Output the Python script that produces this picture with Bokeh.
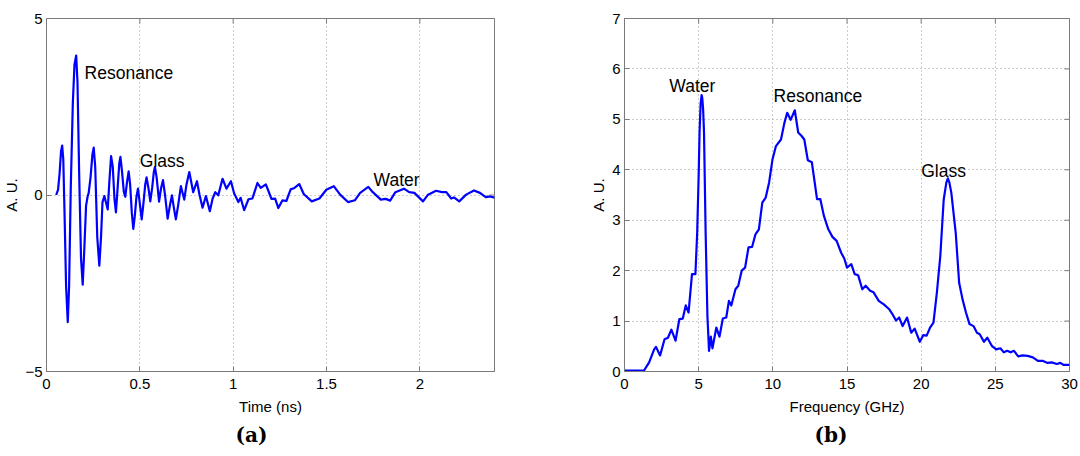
from bokeh.plotting import figure
from bokeh.layouts import row
from bokeh.models import ColumnDataSource, FixedTicker, Label, Title
from bokeh.embed import file_html
from bokeh.resources import INLINE

# ---------------- data ----------------
time_ns = [0.052, 0.062, 0.070, 0.078, 0.084, 0.090, 0.097, 0.105, 0.114, 0.121,
           0.130, 0.141, 0.150, 0.159, 0.166, 0.175, 0.185, 0.194, 0.202, 0.212,
           0.220, 0.226, 0.236, 0.246, 0.253, 0.261, 0.272, 0.283, 0.292, 0.300,
           0.310, 0.318, 0.328, 0.337, 0.346, 0.355, 0.364, 0.372, 0.381, 0.390,
           0.396, 0.404, 0.414, 0.422, 0.431, 0.440, 0.448, 0.457, 0.465, 0.473,
           0.482, 0.490, 0.499, 0.510, 0.520, 0.529, 0.536, 0.546, 0.556, 0.566,
           0.575, 0.581, 0.590, 0.603, 0.614, 0.624, 0.635, 0.649, 0.661, 0.672,
           0.682, 0.693, 0.705, 0.720, 0.738, 0.750, 0.765, 0.786, 0.806, 0.820,
           0.836, 0.854, 0.875, 0.890, 0.904, 0.920, 0.943, 0.964, 0.988, 1.005,
           1.028, 1.040, 1.059, 1.082, 1.103, 1.130, 1.148, 1.175, 1.190, 1.205,
           1.225, 1.242, 1.264, 1.285, 1.308, 1.328, 1.354, 1.378, 1.421, 1.462,
           1.499, 1.539, 1.573, 1.615, 1.652, 1.680, 1.724, 1.748, 1.791, 1.817,
           1.841, 1.869, 1.915, 1.943, 1.971, 2.017, 2.044, 2.087, 2.118, 2.142,
           2.168, 2.183, 2.211, 2.248, 2.290, 2.322, 2.353, 2.377, 2.401]
signal_au = [0.00, 0.15, 0.60, 1.25, 1.40, 1.00, -0.60, -2.60, -3.60, -2.60,
             0.20, 2.60, 3.70, 3.95, 3.20, 0.60, -1.80, -2.54, -1.60, -0.30,
             -0.05, 0.06, 0.50, 1.15, 1.34, 0.80, -1.20, -2.00, -1.20, -0.20,
             -0.03, -0.20, -0.41, 0.40, 1.10, 0.80, -0.10, -0.49, 0.20, 0.90,
             1.08, 0.70, 0.10, -0.05, 0.35, 0.67, 0.30, -0.50, -0.96, -0.60,
             -0.05, 0.18, -0.20, -0.69, -0.20, 0.30, 0.50, 0.20, -0.18, 0.20,
             0.65, 0.79, 0.50, -0.19, 0.20, 0.42, 0.00, -0.67, -0.30, -0.01,
             -0.35, -0.69, -0.30, 0.25, -0.13, 0.30, 0.65, 0.08, 0.39, 0.00,
             -0.36, -0.03, -0.46, -0.10, 0.08, -0.01, 0.46, 0.18, 0.39, 0.05,
             -0.20, -0.08, -0.43, -0.12, -0.10, 0.34, 0.20, 0.30, 0.10, -0.11,
             -0.10, -0.37, -0.15, -0.17, 0.16, 0.20, 0.31, 0.03, -0.18, -0.10,
             0.15, 0.25, 0.01, -0.20, -0.15, 0.06, 0.23, 0.08, -0.13, -0.11,
             -0.16, 0.08, 0.18, 0.08, 0.06, -0.18, 0.01, 0.12, 0.08, 0.08,
             -0.10, -0.07, -0.18, 0.01, 0.13, 0.06, -0.06, -0.04, -0.08]

freq_ghz = [0.0, 1.32, 1.66, 2.0, 2.12, 2.36, 2.4, 2.7, 2.93, 3.16,
            3.44, 3.7, 3.93, 4.13, 4.32, 4.55, 4.78, 4.9, 5.0, 5.06,
            5.13, 5.2, 5.24, 5.3, 5.36, 5.47, 5.59, 5.7, 5.82, 5.93,
            6.19, 6.4, 6.63, 6.86, 7.04, 7.2, 7.48, 7.67, 7.9, 8.13,
            8.36, 8.6, 8.83, 9.06, 9.29, 9.52, 9.75, 9.98, 10.21, 10.55,
            10.78, 10.97, 11.2, 11.48, 11.71, 11.94, 12.12, 12.36, 12.63, 12.98,
            13.2, 13.44, 13.74, 14.02, 14.3, 14.6, 14.83, 15.0, 15.29, 15.52,
            15.75, 16.03, 16.26, 16.56, 16.79, 17.14, 17.48, 17.83, 18.06, 18.3,
            18.52, 18.75, 19.05, 19.33, 19.56, 19.91, 20.14, 20.37, 20.6, 20.83,
            21.06, 21.29, 21.52, 21.7, 21.8, 21.9, 22.03, 22.33, 22.56, 22.79,
            23.02, 23.26, 23.53, 23.76, 23.95, 24.23, 24.46, 24.76, 25.06, 25.34,
            25.57, 25.8, 26.03, 26.26, 26.54, 26.84, 27.18, 27.53, 27.87, 28.22,
            28.52, 28.8, 29.15, 29.38, 29.61, 30.0]
spectrum_au = [0.02, 0.02, 0.18, 0.44, 0.49, 0.34, 0.32, 0.64, 0.67, 0.83,
               0.61, 1.04, 1.05, 1.31, 1.17, 1.93, 1.93, 2.75, 3.9, 4.74,
               5.3, 5.48, 5.43, 5.2, 4.74, 2.75, 1.10, 0.41, 0.69, 0.46,
               0.87, 0.69, 1.05, 1.07, 1.40, 1.31, 1.63, 1.70, 2.00, 2.06,
               2.46, 2.47, 2.72, 2.82, 3.35, 3.45, 3.75, 4.21, 4.47, 4.60,
               4.93, 5.13, 4.99, 5.18, 4.74, 4.67, 4.60, 4.19, 4.15, 3.42,
               3.42, 3.09, 2.82, 2.67, 2.59, 2.36, 2.23, 2.06, 2.13, 1.93,
               1.91, 1.63, 1.70, 1.60, 1.57, 1.40, 1.33, 1.24, 1.14, 1.01,
               1.07, 0.90, 1.07, 0.77, 0.85, 0.59, 0.72, 0.71, 0.87, 0.97,
               1.57, 2.29, 3.41, 3.75, 3.83, 3.75, 3.55, 2.75, 1.76, 1.43,
               1.17, 0.94, 0.90, 0.77, 0.74, 0.59, 0.67, 0.51, 0.44, 0.46,
               0.38, 0.41, 0.38, 0.41, 0.30, 0.32, 0.31, 0.28, 0.21, 0.21,
               0.17, 0.18, 0.15, 0.17, 0.13, 0.13]

time_ticks = [0, 0.5, 1, 1.5, 2]
time_tick_labels = ["0", "0.5", "1", "1.5", "2"]
amp_ticks = [-5, 0, 5]
freq_ticks = [0, 5, 10, 15, 20, 25, 30]
spec_ticks = [0, 1, 2, 3, 4, 5, 6, 7]

left_labels = ["Resonance", "Glass", "Water"]
right_labels = ["Water", "Resonance", "Glass"]

# ---------------- styling ----------------
FONT = "Liberation Sans"
FRAME_COL = "#7a7a7a"
BLUE = "#0000ff"
TICK_PX = 5


def style(p, xt, yt, xr, yr, fw, fh, xlabels=None):
    p.outline_line_color = FRAME_COL
    p.outline_line_width = 1
    p.xaxis.ticker = FixedTicker(ticks=xt)
    p.yaxis.ticker = FixedTicker(ticks=yt)
    if xlabels:
        p.xaxis.major_label_overrides = {t: l for t, l in zip(xt, xlabels)}
    for ax in p.xaxis + p.yaxis:
        ax.axis_line_color = FRAME_COL
        ax.major_tick_line_color = FRAME_COL
        ax.major_tick_in = TICK_PX
        ax.major_tick_out = 0
        ax.minor_tick_line_color = None
        ax.major_label_text_font = FONT
        ax.major_label_text_font_size = "15px"
        ax.major_label_text_color = "black"
        ax.axis_label_text_font = FONT
        ax.axis_label_text_font_size = "15px"
        ax.axis_label_text_font_style = "normal"
        ax.axis_label_text_color = "black"
    p.xaxis.major_label_standoff = 7
    p.xaxis.axis_label_standoff = 6
    p.yaxis.major_label_standoff = 4
    p.yaxis.axis_label_standoff = 2
    p.grid.grid_line_color = "#9a9a9a"
    p.grid.grid_line_dash = "1 3"
    p.grid.grid_line_width = 1
    p.xgrid.ticker = FixedTicker(ticks=xt)
    p.ygrid.ticker = FixedTicker(ticks=yt)
    # inward ticks on the top and right edges of the box
    dx = (xr[1] - xr[0]) * TICK_PX / fw
    dy = (yr[1] - yr[0]) * TICK_PX / fh
    p.segment(x0=xt, y0=[yr[1]] * len(xt), x1=xt, y1=[yr[1] - dy] * len(xt),
              line_color=FRAME_COL, line_width=1)
    p.segment(x0=[xr[1]] * len(yt), y0=yt, x1=[xr[1] - dx] * len(yt), y1=yt,
              line_color=FRAME_COL, line_width=1)


def add_text(p, txt, x, y):
    p.add_layout(Label(x=x, y=y, text=txt, text_font=FONT, text_font_size="17.5px",
                       text_baseline="middle", text_align="left", text_color="black"))


def caption(p, txt, off):
    p.add_layout(Title(text=txt, align="left", text_font="DejaVu Serif",
                       text_font_size="20px", text_font_style="bold",
                       text_color="black", standoff=6, offset=off), "below")


# ---------------- left: time domain ----------------
XR1, YR1, FW1, FH = (0, 2.4), (-5, 5), 448, 353
p1 = figure(frame_width=FW1, frame_height=FH, x_range=XR1, y_range=YR1,
            output_backend="svg", toolbar_location=None,
            min_border_left=39, min_border_right=93, min_border_top=18, min_border_bottom=4)
p1.line(x="t", y="a", source=ColumnDataSource(dict(t=time_ns, a=signal_au)),
        line_color=BLUE, line_width=2.2, line_join="round")
style(p1, time_ticks, amp_ticks, XR1, YR1, FW1, FH, time_tick_labels)
p1.xaxis.axis_label = "Time (ns)"
p1.yaxis.axis_label = "A. U."
for txt, x, y in zip(left_labels, [0.204, 0.50, 1.752], [3.46, 0.96, 0.43]):
    add_text(p1, txt, x, y)
caption(p1, "(a)", 189)

# ---------------- right: frequency domain ----------------
XR2, YR2, FW2 = (0, 30), (0, 7), 445
p2 = figure(frame_width=FW2, frame_height=FH, x_range=XR2, y_range=YR2,
            output_backend="svg", toolbar_location=None,
            min_border_left=36, min_border_right=9, min_border_top=18, min_border_bottom=4)
p2.line(x="f", y="s", source=ColumnDataSource(dict(f=freq_ghz, s=spectrum_au)),
        line_color=BLUE, line_width=2.2, line_join="round")
style(p2, freq_ticks, spec_ticks, XR2, YR2, FW2, FH)
p2.xaxis.axis_label = "Frequency (GHz)"
p2.yaxis.axis_label = "A. U."
for txt, x, y in zip(right_labels, [3.02, 10.05, 20.0], [5.67, 5.46, 3.97]):
    add_text(p2, txt, x, y)
caption(p2, "(b)", 190)

layout = row(p1, p2)
open("out.html", "w").write(file_html(layout, INLINE))
